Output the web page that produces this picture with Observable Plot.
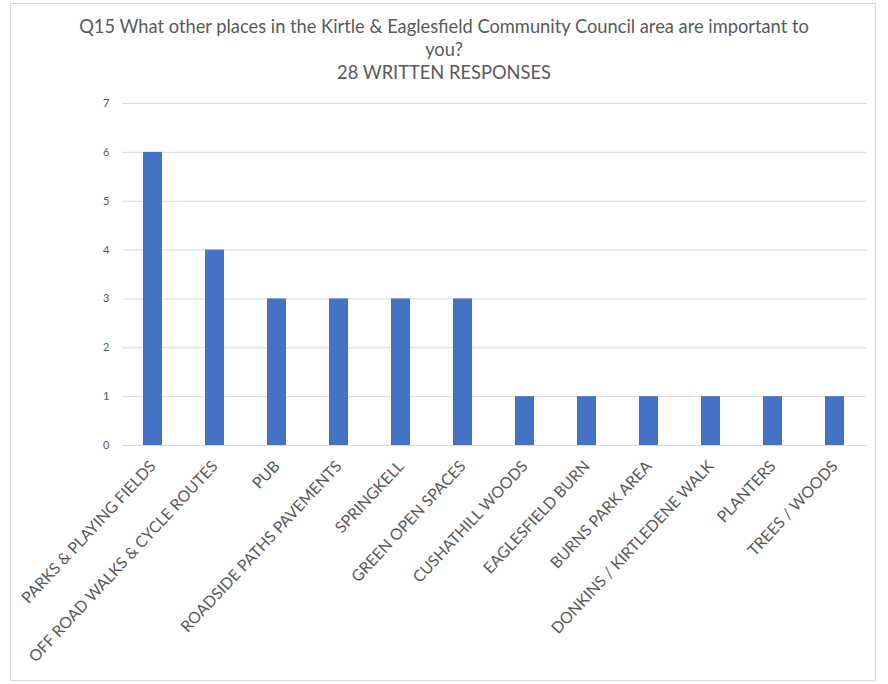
<!DOCTYPE html>
<html>
<head>
<meta charset="utf-8">
<script src="https://cdn.jsdelivr.net/npm/d3@7"></script>
<script src="https://cdn.jsdelivr.net/npm/@observablehq/plot@0.6"></script>
<style>
  html, body { margin: 0; padding: 0; background: #fff; }
  #wrap { position: relative; width: 888px; height: 684px; overflow: hidden; font-family: Lato, "Open Sans", sans-serif; }
  #frame { position: absolute; left: 10px; top: 3px; width: 866px; height: 678px; border: 1px solid #d9d9d9; box-sizing: border-box; }
  .t { position: absolute; left: 0; width: 888px; text-align: center; color: #595959; font-size: 18.3px; line-height: 23px; }
  #chart { position: absolute; left: 0; top: 0; }
</style>
</head>
<body>
<div id="wrap">
  <div id="frame"></div>
  <div id="chart"></div>
  <div class="t" style="top:15px;">Q15 What other places in the Kirtle &amp; Eaglesfield Community Council area are important to</div>
  <div class="t" style="top:38px;">you?</div>
  <div class="t" style="top:61px;">28 WRITTEN RESPONSES</div>
</div>
<script>
const categories = [
  "PARKS & PLAYING FIELDS",
  "OFF ROAD WALKS & CYCLE ROUTES",
  "PUB",
  "ROADSIDE PATHS PAVEMENTS",
  "SPRINGKELL",
  "GREEN OPEN SPACES",
  "CUSHATHILL WOODS",
  "EAGLESFIELD BURN",
  "BURNS PARK AREA",
  "DONKINS / KIRTLEDENE WALK",
  "PLANTERS",
  "TREES / WOODS"
];
const counts = [6, 4, 3, 3, 3, 3, 1, 1, 1, 1, 1, 1];
const yTicks = [0, 1, 2, 3, 4, 5, 6, 7];

const data = categories.map((c, i) => ({category: c, count: counts[i]}));

const plot = Plot.plot({
  width: 888,
  height: 684,
  marginLeft: 122,
  marginRight: 22,
  marginTop: 103,
  marginBottom: 239,
  style: {fontFamily: "Lato, 'Open Sans', sans-serif", color: "#595959", background: "transparent", overflow: "visible"},
  x: {domain: categories, paddingInner: 0.69, paddingOuter: 0.345, label: null},
  y: {domain: [0, 7], label: null},
  marks: [
    Plot.gridY(yTicks, {stroke: "#d9d9d9", strokeOpacity: 1, strokeWidth: 1}),
    Plot.barY(data, {x: "category", y: "count", fill: "#4472C4"}),
    Plot.axisY(yTicks, {tickSize: 0, tickPadding: 13, fontSize: 11, fill: "#595959", tickFormat: d => String(d), label: null}),
    Plot.axisX({tickSize: 0, tickPadding: 18, tickRotate: -47, fontSize: 15.8, fill: "#595959", label: null})
  ]
});
document.getElementById("chart").appendChild(plot);
</script>
</body>
</html>
